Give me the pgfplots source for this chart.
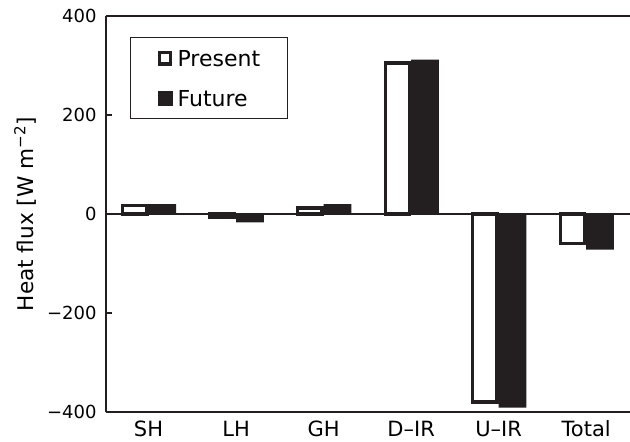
\documentclass[border=0pt]{standalone}
\usepackage{fontspec}
\setmainfont{DejaVu Sans}
\usepackage{pgfplots}
\pgfplotsset{compat=1.18}
\definecolor{ink}{RGB}{35,31,32}

\begin{document}
\begin{tikzpicture}
\begin{axis}[
  scale only axis, width=262pt, height=198pt,
  xmin=-0.486, xmax=5.5, ymin=-400, ymax=400,
  axis x line*=box, axis y line*=left,
  axis line style={line width=1.1pt, color=ink, -},
  xtick={0,...,5}, xticklabels={SH,LH,GH,D–IR,U–IR,Total},
  xtick style={draw=none},
  ytick={-400,-200,0,200,400}, yticklabels={−400,−200,0,200,400},
  tick align=inside, major tick length=3pt,
  ytick style={line width=0.8pt, color=ink},
  xticklabel style={font=\fontsize{10.5}{12}\selectfont, anchor=base, yshift=-12.5pt},
  yticklabel style={font=\fontsize{9}{11}\selectfont, anchor=east, inner sep=0pt, xshift=-4.5pt},
  ylabel={Heat flux [W m\textsuperscript{−2}]},
  every axis y label/.style={at={(rel axis cs:0,0.5)}, rotate=90, anchor=base,
    yshift=36.4pt, font=\fontsize{10.8}{13}\selectfont},
  legend style={at={(rel axis cs:0.0458,0.947)}, anchor=north west,
    draw=ink, line width=0.6pt, fill=white,
    inner xsep=13.5pt, inner ysep=6.3pt, row sep=12pt, column sep=2.5pt,
    font=\fontsize{11}{13}\selectfont,
    nodes={inner sep=0pt, text height=8pt, text depth=0pt}},
  legend cell align=left,
]
% zero reference line
\draw[ink, line width=0.6pt] (axis cs:-0.486,0) -- (axis cs:5.5,0);

\addplot[ybar, bar width=0.277, bar shift=-0.158, draw=ink, fill=white,
  line width=1.7pt, line join=miter,
  legend image code/.code={\draw[ink, line width=1.8pt, fill=white, line join=miter]
    (0.15pt,-2.8pt) rectangle (5.75pt,2.8pt);}]
  coordinates {(0,17) (1,-7) (2,12) (3,305) (4,-380) (5,-60)};
\addlegendentry{Present}

\addplot[ybar, bar width=0.317, bar shift=0.158, draw=none, fill=ink,
  legend image code/.code={\fill[ink] (-0.75pt,-3.7pt) rectangle (6.75pt,3.7pt);}]
  coordinates {(0,20) (1,-17) (2,20) (3,312) (4,-391) (5,-72)};
\addlegendentry{Future}

\coordinate (ll) at (rel axis cs:0,0);
\coordinate (ur) at (rel axis cs:1,1);
\end{axis}
\pgfresetboundingbox
\path[use as bounding box] ([xshift=-53pt,yshift=-15pt]ll) rectangle ([yshift=8pt]ur);
\end{tikzpicture}
\end{document}
